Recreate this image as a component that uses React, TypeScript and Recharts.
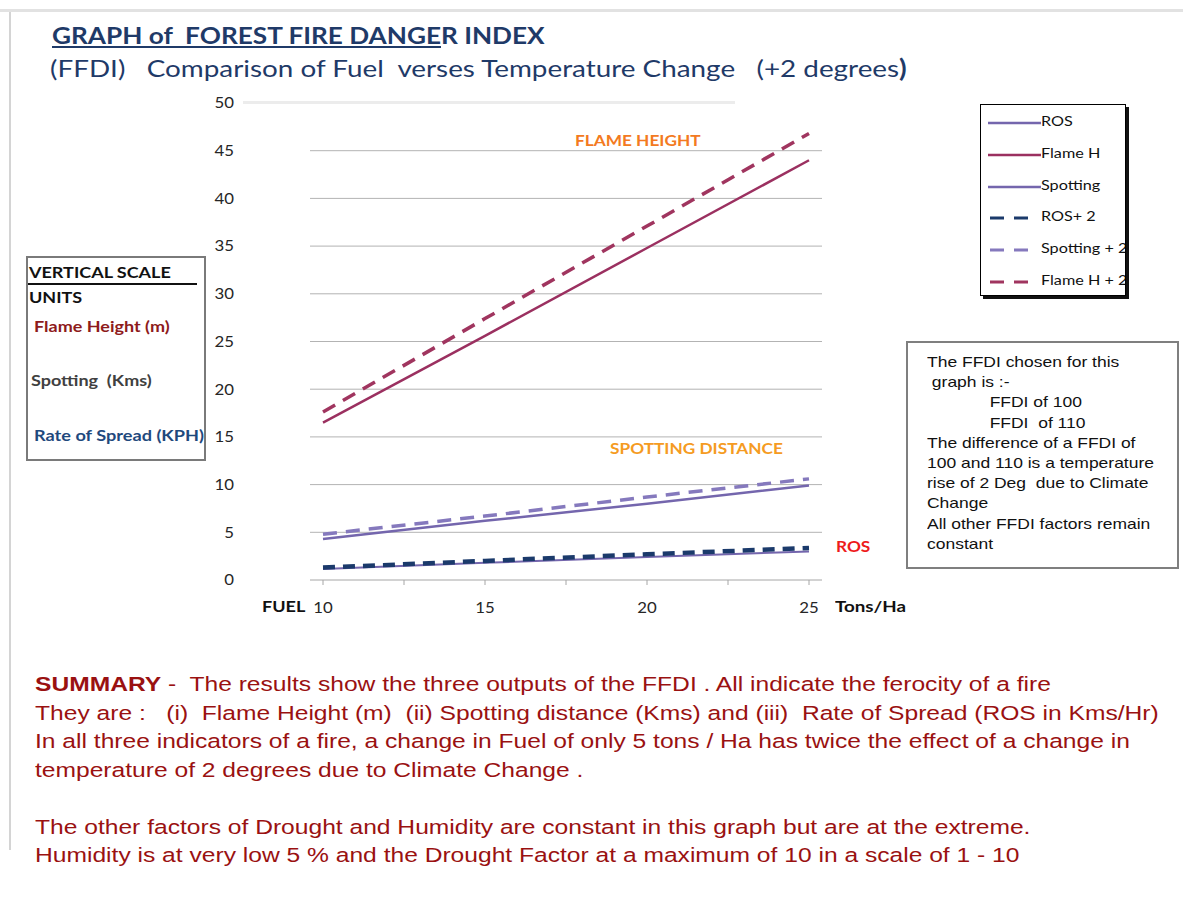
import React from 'react';
import { LineChart, Line, XAxis, YAxis, CartesianGrid, Legend } from 'recharts';

// values (fuel load in tons/ha)
const fuel = [10, 15, 20, 25];
const ros = [1.15, 1.8, 2.4, 3.0];
const flameH = [16.5, 25.6, 34.8, 44.0];
const spotting = [4.3, 6.2, 8.0, 9.9];
const ros2 = [1.3, 2.0, 2.7, 3.35];
const spotting2 = [4.8, 6.7, 8.7, 10.6];
const flameH2 = [17.6, 27.4, 37.1, 46.8];

const xTicks = [10, 12.5, 15, 17.5, 20, 22.5, 25];
const yTicks = [0, 5, 10, 15, 20, 25, 30, 35, 40, 45, 50];
const gridValues = [5, 10, 15, 20, 25, 30, 35, 40, 45];

const series = [
  { key: 'ros', name: 'ROS', color: '#7466ad', width: 2, dash: undefined },
  { key: 'flameH', name: 'Flame H', color: '#9b3060', width: 2.5, dash: undefined },
  { key: 'spotting', name: 'Spotting', color: '#7466ad', width: 2.5, dash: undefined },
  { key: 'ros2', name: 'ROS+ 2', color: '#1b3a6b', width: 4.5, dash: '12 8' },
  { key: 'spotting2', name: 'Spotting + 2', color: '#8579bd', width: 3.5, dash: '14 9' },
  { key: 'flameH2', name: 'Flame H + 2', color: '#a0355f', width: 3.5, dash: '14 9' },
];

const data = fuel.map((f, i) => ({
  fuel: f,
  ros: ros[i],
  flameH: flameH[i],
  spotting: spotting[i],
  ros2: ros2[i],
  spotting2: spotting2[i],
  flameH2: flameH2[i],
}));

const calibri = 'Lato, "Open Sans", sans-serif';
const arial = '"Liberation Sans", Arial, sans-serif';

// the reference text is horizontally stretched, so widen our text the same way
const abs = (left: number, top: number, sx: number, extra: React.CSSProperties = {}): React.CSSProperties => ({
  position: 'absolute',
  left,
  top,
  whiteSpace: 'pre',
  lineHeight: 1,
  transform: `scaleX(${sx})`,
  transformOrigin: 'left top',
  ...extra,
});

const StretchTick = (anchor: 'end' | 'middle', fmt?: (v: number) => string) =>
  function Tick(props: any) {
    const { x, y, payload } = props;
    const label = fmt ? fmt(payload.value) : String(payload.value);
    return (
      <text
        x={x}
        y={y}
        dy={anchor === 'end' ? '0.355em' : '0.71em'}
        textAnchor={anchor}
        fontSize={15}
        fontFamily={calibri}
        fill="#262626"
        transform={`translate(${x},0) scale(1.12,1) translate(${-x},0)`}
      >
        {label}
      </text>
    );
  };

const YTick = StretchTick('end');
const XTick = StretchTick('middle', (v) => (v % 5 === 0 ? String(v) : ''));

const LegendBox = () => (
  <div
    style={{
      width: 144,
      height: 190,
      border: '1px solid #000',
      boxShadow: '3px 3px 0 #111',
      background: '#fff',
      overflow: 'hidden',
      position: 'relative',
      fontFamily: calibri,
      fontSize: 13.5,
      color: '#111',
    }}
  >
    {series.map((s, i) => (
      <div key={s.key} style={{ position: 'absolute', left: 0, top: 9 + i * 31.8, height: 18, width: 200 }}>
        <svg width={54} height={18} style={{ position: 'absolute', left: 6, top: 0 }}>
          {s.dash ? (
            <line x1={3} y1={9} x2={46} y2={9} stroke={s.color} strokeWidth={3} strokeDasharray="14 10" />
          ) : (
            <line x1={1} y1={9} x2={54} y2={9} stroke={s.color} strokeWidth={2.5} />
          )}
        </svg>
        <span style={abs(60, 1, 1.2)}>{s.name}</span>
      </div>
    ))}
  </div>
);

export default function App() {
  return (
    <div
      style={{
        position: 'fixed',
        left: 0,
        top: 0,
        width: 1183,
        height: 900,
        background: '#fff',
        overflow: 'hidden',
      }}
    >
      {/* page frame */}
      <div style={{ position: 'absolute', left: 0, top: 9, width: 1183, height: 3, background: '#e2e2e2' }} />
      <div style={{ position: 'absolute', left: 9, top: 12, width: 2, height: 838, background: '#d4d4d4' }} />

      <div style={abs(52, 25, 1.19, { fontFamily: calibri, fontWeight: 700, fontSize: 22, color: '#1f3a68' })}>
        <span style={{ textDecoration: 'underline' }}>GRAPH of  FOREST FIRE DANGE</span>R INDEX
      </div>
      <div style={abs(50, 56, 1.16, { fontFamily: calibri, fontSize: 24, color: '#1f3a68' })}>
        (FFDI)   Comparison of Fuel  verses Temperature Change   (+2 degrees<b>)</b>
      </div>

      {/* faint top line at 50 */}
      <div style={{ position: 'absolute', left: 243, top: 101, width: 492, height: 3, background: '#ececec' }} />

      <div style={{ position: 'absolute', left: 0, top: 0 }}>
        <LineChart
          width={1183}
          height={640}
          data={data}
          margin={{ top: 103, right: 361, bottom: 20, left: 150 }}
        >
          <CartesianGrid vertical={false} horizontalValues={gridValues} stroke="#b3b3b3" />
          <XAxis
            dataKey="fuel"
            type="number"
            domain={[10, 25]}
            ticks={xTicks}
            padding={{ left: 13, right: 13 }}
            height={40}
            stroke="#a6a6a6"
            tickSize={5}
            tickMargin={17}
            tick={XTick}
          />
          <YAxis
            domain={[0, 50]}
            ticks={yTicks}
            width={160}
            axisLine={false}
            tickLine={false}
            tickSize={6}
            tickMargin={70}
            tick={YTick}
          />
          <Legend
            layout="vertical"
            align="center"
            verticalAlign="middle"
            content={() => <LegendBox />}
            wrapperStyle={{ left: 980, top: 104, width: 150, height: 196 }}
          />
          {series.map((s) => (
            <Line
              key={s.key}
              dataKey={s.key}
              name={s.name}
              type="linear"
              stroke={s.color}
              strokeWidth={s.width}
              strokeDasharray={s.dash}
              dot={false}
              isAnimationActive={false}
            />
          ))}
        </LineChart>
      </div>

      {/* chart annotations */}
      <div style={abs(575, 133, 1.15, { fontFamily: calibri, fontWeight: 700, fontSize: 15, color: '#f37a21' })}>FLAME HEIGHT</div>
      <div style={abs(610, 441, 1.15, { fontFamily: calibri, fontWeight: 700, fontSize: 15, color: '#f59b22' })}>SPOTTING DISTANCE</div>
      <div style={abs(836, 539, 1.15, { fontFamily: calibri, fontWeight: 700, fontSize: 15, color: '#ee1b1b' })}>ROS</div>
      <div style={abs(262, 599, 1.2, { fontFamily: calibri, fontWeight: 700, fontSize: 15, color: '#111' })}>FUEL</div>
      <div style={abs(835, 599, 1.25, { fontFamily: calibri, fontWeight: 700, fontSize: 15, color: '#111' })}>Tons/Ha</div>

      {/* vertical scale box */}
      <div
        style={{
          position: 'absolute',
          left: 26,
          top: 256,
          width: 176,
          height: 201,
          border: '2px solid #7a7a7a',
          fontFamily: calibri,
          fontWeight: 700,
          fontSize: 15,
        }}
      >
        <div style={abs(1, 7, 1.2, { color: '#111' })}>VERTICAL SCALE</div>
        <div style={{ position: 'absolute', left: 0, top: 25, width: 169, height: 2, background: '#111' }} />
        <div style={abs(1, 32, 1.2, { color: '#111' })}>UNITS</div>
        <div style={abs(6, 61, 1.2, { color: '#8e1b1b' })}>Flame Height (m)</div>
        <div style={abs(3, 115, 1.2, { color: '#404040' })}>Spotting  (Kms)</div>
        <div style={abs(6, 170, 1.21, { color: '#1f497d' })}>Rate of Spread (KPH)</div>
      </div>

      {/* FFDI note */}
      <div
        style={{
          position: 'absolute',
          left: 906,
          top: 341,
          width: 273,
          height: 228,
          border: '2px solid #7f7f7f',
          boxSizing: 'border-box',
        }}
      >
        <div
          style={abs(19, 9, 1.205, {
            fontFamily: arial,
            fontSize: 14.5,
            lineHeight: '20.2px',
            color: '#111',
          })}
        >
          {'The FFDI chosen for this\n graph is :-\n'}
          <div style={{ paddingLeft: 52 }}>{'FFDI of 100\nFFDI  of 110'}</div>
          {'The difference of a FFDI of\n100 and 110 is a temperature\nrise of 2 Deg  due to Climate\nChange\nAll other FFDI factors remain\nconstant'}
        </div>
      </div>

      {/* summary */}
      <div
        style={abs(35, 670, 1.2, {
          fontFamily: arial,
          fontSize: 20.5,
          lineHeight: '28.5px',
          color: '#9a1111',
        })}
      >
        <b>SUMMARY</b>
        {' -  The results show the three outputs of the FFDI . All indicate the ferocity of a fire\n'}
        {'They are :   (i)  Flame Height (m)  (ii) Spotting distance (Kms) and (iii)  Rate of Spread (ROS in Kms/Hr)\n'}
        {'In all three indicators of a fire, a change in Fuel of only 5 tons / Ha has twice the effect of a change in\n'}
        {'temperature of 2 degrees due to Climate Change .\n\n'}
        {'The other factors of Drought and Humidity are constant in this graph but are at the extreme.\n'}
        {'Humidity is at very low 5 % and the Drought Factor at a maximum of 10 in a scale of 1 - 10'}
      </div>
    </div>
  );
}
